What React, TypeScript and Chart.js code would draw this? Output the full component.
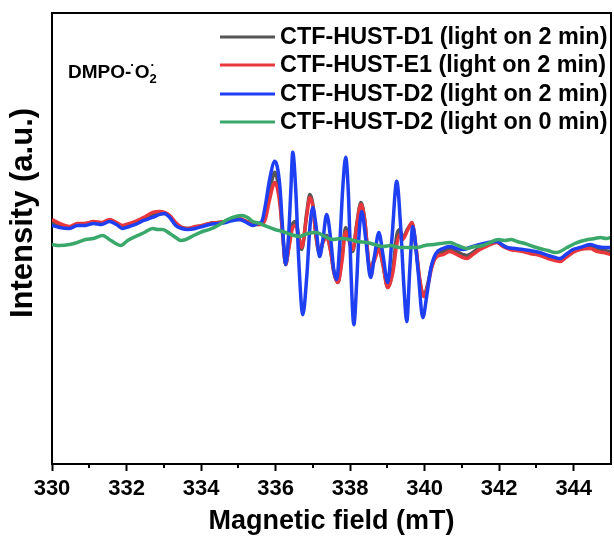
import React, { useEffect, useRef } from 'react';
import { Chart, registerables } from 'chart.js';

Chart.register(...registerables);

const FONT = "'Liberation Sans', Arial, Helvetica, sans-serif";

const seriesLabels = [
  'CTF-HUST-D1 (light on 2 min)',
  'CTF-HUST-E1 (light on 2 min)',
  'CTF-HUST-D2 (light on 2 min)',
  'CTF-HUST-D2 (light on 0 min)',
];
const seriesColors = ['#555555', '#e8383d', '#1f3ff2', '#3aa86a'];
const xTitle = 'Magnetic field (mT)';
const yTitle = 'Intensity (a.u.)';

const fieldMin = 330;
const fieldMax = 345;
const fieldStep = 2;
const intensityMin = -2.4;
const intensityMax = 2.1;

// Magnetic field (mT) grid shared by D1 and E1 traces
const d1e1Field = [
  330.00, 330.20, 330.47, 330.68, 330.90, 331.11, 331.33, 331.54, 331.73, 331.89,
  332.08, 332.24, 332.46, 332.70, 332.89, 333.02, 333.16, 333.32, 333.48, 333.64,
  333.85, 334.04, 334.23, 334.45, 334.66, 334.85, 335.04, 335.22, 335.39, 335.52,
  335.63, 335.73, 335.84, 335.98, 336.11, 336.19, 336.27, 336.35, 336.46, 336.54,
  336.62, 336.70, 336.84, 336.92, 337.00, 337.08, 337.18, 337.27, 337.37, 337.48,
  337.56, 337.67, 337.78, 337.88, 337.96, 338.07, 338.18, 338.29, 338.39, 338.53,
  338.64, 338.77, 338.88, 339.01, 339.15, 339.25, 339.33, 339.41, 339.55, 339.66,
  339.76, 339.87, 339.98, 340.09, 340.19, 340.30, 340.49, 340.68, 340.86, 341.03,
  341.13, 341.29, 341.48, 341.70, 341.94, 342.10, 342.29, 342.48, 342.64, 342.83,
  343.09, 343.31, 343.50, 343.63, 343.79, 343.98, 344.17, 344.44, 344.63, 344.80,
  345.00,
];

const d1Intensity = [
  0.01, -0.02, -0.04, -0.01, 0, 0.01, 0, 0.03, 0, -0.03,
  -0.01, 0.01, 0.04, 0.08, 0.10, 0.10, 0.07, 0, -0.04, -0.05,
  -0.04, -0.02, 0, 0.01, 0.02, 0.04, 0.04, 0.02, -0.01, -0.01,
  0, 0.10, 0.32, 0.51, 0.26, -0.11, -0.41, -0.24, 0, 0.02,
  -0.12, -0.26, 0.12, 0.29, 0.19, -0.12, -0.30, -0.18, -0.12, -0.28,
  -0.48, -0.59, -0.34, -0.04, -0.14, -0.28, 0, 0.21, 0.04, -0.46,
  -0.36, -0.24, -0.41, -0.64, -0.44, -0.12, -0.06, -0.14, -0.05, 0,
  -0.23, -0.58, -0.72, -0.59, -0.42, -0.33, -0.28, -0.26, -0.28, -0.31,
  -0.32, -0.29, -0.24, -0.21, -0.18, -0.22, -0.25, -0.26, -0.27, -0.29,
  -0.31, -0.34, -0.36, -0.37, -0.33, -0.28, -0.25, -0.23, -0.26, -0.27,
  -0.28,
];

const e1Intensity = [
  0.04, 0, -0.03, 0, 0, 0.02, 0.01, 0.04, 0.01, -0.02,
  0, 0.02, 0.06, 0.11, 0.12, 0.11, 0.08, 0.01, -0.04, -0.05,
  -0.03, -0.02, 0, 0.01, 0.02, 0.04, 0.05, 0.02, 0, -0.01,
  -0.01, 0.05, 0.24, 0.41, 0.21, -0.11, -0.41, -0.26, -0.04, -0.02,
  -0.14, -0.24, 0.09, 0.26, 0.17, -0.11, -0.28, -0.19, -0.14, -0.28,
  -0.48, -0.59, -0.38, -0.08, -0.16, -0.26, -0.01, 0.19, 0.04, -0.44,
  -0.38, -0.26, -0.41, -0.64, -0.48, -0.21, -0.11, -0.16, -0.06, 0.01,
  -0.21, -0.56, -0.73, -0.61, -0.44, -0.34, -0.31, -0.28, -0.31, -0.34,
  -0.35, -0.31, -0.26, -0.22, -0.19, -0.23, -0.26, -0.27, -0.28, -0.30,
  -0.32, -0.35, -0.37, -0.38, -0.34, -0.29, -0.26, -0.25, -0.28, -0.29,
  -0.31,
];

const d2Field = [
  330.00, 330.20, 330.47, 330.68, 330.90, 331.11, 331.33, 331.54, 331.73, 331.89,
  332.08, 332.24, 332.46, 332.70, 332.89, 333.02, 333.16, 333.32, 333.48, 333.64,
  333.85, 334.04, 334.23, 334.45, 334.66, 334.85, 335.04, 335.22, 335.39, 335.52,
  335.63, 335.73, 335.84, 335.98, 336.11, 336.19, 336.27, 336.35, 336.41, 336.46,
  336.54, 336.62, 336.73, 336.84, 336.92, 337.00, 337.08, 337.18, 337.27, 337.37,
  337.48, 337.56, 337.64, 337.72, 337.80, 337.88, 337.96, 338.02, 338.10, 338.18,
  338.23, 338.31, 338.42, 338.55, 338.66, 338.77, 338.88, 339.01, 339.12, 339.25,
  339.36, 339.44, 339.52, 339.60, 339.68, 339.82, 339.95, 340.06, 340.17, 340.30,
  340.49, 340.68, 340.86, 341.03, 341.21, 341.48, 341.70, 341.94, 342.07, 342.21,
  342.42, 342.64, 342.83, 343.09, 343.31, 343.50, 343.63, 343.79, 343.98, 344.17,
  344.44, 344.63, 344.80, 345.00,
];

const d2Intensity = [
  -0.02, -0.04, -0.05, -0.02, -0.02, 0, -0.01, 0.02, -0.01, -0.05,
  -0.03, -0.01, 0.03, 0.06, 0.09, 0.10, 0.06, -0.02, -0.05, -0.06,
  -0.05, -0.03, -0.01, 0, 0.01, 0.03, 0.04, 0.01, -0.02, 0,
  0.02, 0.19, 0.44, 0.62, 0.39, -0.06, -0.41, -0.11, 0.34, 0.71,
  0.34, -0.36, -0.91, -0.51, -0.04, 0.16, -0.01, -0.33, -0.16, 0.09,
  -0.16, -0.46, -0.56, -0.21, 0.34, 0.66, 0.24, -0.46, -1.01, -0.56,
  -0.16, 0.12, -0.16, -0.54, -0.31, -0.09, -0.31, -0.59, -0.16, 0.42,
  -0.06, -0.61, -0.98, -0.46, -0.03, -0.46, -0.94, -0.71, -0.44, -0.30,
  -0.25, -0.23, -0.25, -0.26, -0.24, -0.21, -0.19, -0.18, -0.21, -0.24,
  -0.25, -0.26, -0.27, -0.29, -0.32, -0.34, -0.35, -0.31, -0.26, -0.24,
  -0.21, -0.23, -0.24, -0.24,
];

const darkField = [
  330.00, 330.20, 330.47, 330.68, 330.90, 331.11, 331.36, 331.54, 331.71, 331.84,
  332.03, 332.24, 332.48, 332.70, 332.84, 332.97, 333.16, 333.32, 333.45, 333.59,
  333.80, 334.04, 334.23, 334.50, 334.71, 334.93, 335.09, 335.25, 335.39, 335.57,
  335.76, 335.98, 336.19, 336.41, 336.65, 336.86, 337.10, 337.32, 337.53, 337.75,
  337.99, 338.20, 338.45, 338.66, 338.88, 339.09, 339.33, 339.55, 339.79, 340.01,
  340.22, 340.43, 340.68, 340.89, 341.13, 341.35, 341.56, 341.75, 341.97, 342.15,
  342.32, 342.48, 342.69, 342.91, 343.09, 343.31, 343.50, 343.63, 343.82, 344.03,
  344.17, 344.38, 344.57, 344.71, 344.87, 345.00,
];

const darkIntensity = [
  -0.21, -0.22, -0.21, -0.19, -0.16, -0.15, -0.12, -0.16, -0.20, -0.22,
  -0.17, -0.13, -0.09, -0.05, -0.06, -0.06, -0.10, -0.14, -0.17, -0.16,
  -0.12, -0.08, -0.06, -0.01, 0.04, 0.07, 0.08, 0.06, 0.02, 0,
  -0.03, -0.06, -0.08, -0.11, -0.13, -0.10, -0.09, -0.13, -0.16, -0.15,
  -0.16, -0.18, -0.19, -0.21, -0.23, -0.22, -0.24, -0.24, -0.24, -0.22,
  -0.21, -0.20, -0.19, -0.22, -0.25, -0.23, -0.22, -0.19, -0.16, -0.17,
  -0.16, -0.18, -0.20, -0.23, -0.25, -0.27, -0.29, -0.28, -0.24, -0.20,
  -0.18, -0.16, -0.15, -0.14, -0.15, -0.14,
];

const toPoints = (xs: number[], ys: number[]) => xs.map((x, i) => ({ x, y: ys[i] }));

const framePlugin = {
  id: 'frameAndMinor',
  afterDraw(chart: any) {
    const { ctx, chartArea } = chart;
    const { left, right, top, bottom } = chartArea;
    const xs = chart.scales.x;
    ctx.save();
    ctx.strokeStyle = '#000';
    ctx.lineWidth = 2;
    ctx.beginPath();
    ctx.moveTo(left - 1, top);
    ctx.lineTo(right, top);
    ctx.lineTo(right, bottom + 1);
    ctx.stroke();
    ctx.beginPath();
    for (let v = fieldMin + 1; v < fieldMax; v += fieldStep) {
      const px = Math.round(xs.getPixelForValue(v));
      ctx.moveTo(px, bottom);
      ctx.lineTo(px, bottom + 4);
    }
    ctx.stroke();
    // y-axis title
    ctx.translate(23, 213);
    ctx.rotate(-Math.PI / 2);
    ctx.fillStyle = '#000';
    ctx.font = `bold 31px ${FONT}`;
    ctx.textAlign = 'center';
    ctx.textBaseline = 'middle';
    ctx.fillText(yTitle, 0, 0);
    ctx.restore();
  },
};

const legendPlugin = {
  id: 'customLegend',
  afterDraw(chart: any) {
    const { ctx } = chart;
    ctx.save();
    const rowY = [37, 65, 94, 122];
    chart.data.datasets.forEach((ds: any, i: number) => {
      const y = rowY[i];
      ctx.strokeStyle = ds.borderColor;
      ctx.lineWidth = 3;
      ctx.beginPath();
      ctx.moveTo(220, y);
      ctx.lineTo(275, y);
      ctx.stroke();
      ctx.fillStyle = '#000';
      ctx.font = `bold 23.4px ${FONT}`;
      ctx.textBaseline = 'middle';
      ctx.textAlign = 'left';
      ctx.fillText(ds.label, 280, y + 1);
    });
    // DMPO-·O2· label
    let x = 68;
    const base = 78;
    ctx.textBaseline = 'alphabetic';
    ctx.font = `bold 19px ${FONT}`;
    ctx.fillText('DMPO-', x, base);
    x += ctx.measureText('DMPO-').width;
    ctx.font = `bold 13px ${FONT}`;
    ctx.fillText('\u00B7', x - 1, base - 9);
    x += ctx.measureText('\u00B7').width - 1;
    ctx.font = `bold 19px ${FONT}`;
    ctx.fillText('O', x, base);
    x += ctx.measureText('O').width;
    ctx.font = `bold 13px ${FONT}`;
    ctx.fillText('2', x, base + 5);
    ctx.fillText('\u00B7', x + 1, base - 9);
    ctx.restore();
  },
};

export default function App() {
  const ref = useRef<HTMLCanvasElement | null>(null);
  useEffect(() => {
    if (!ref.current) return;
    const chart = new Chart(ref.current, {
      type: 'line',
      data: {
        datasets: [
          { label: seriesLabels[0], data: toPoints(d1e1Field, d1Intensity), borderColor: seriesColors[0], order: 3 },
          { label: seriesLabels[1], data: toPoints(d1e1Field, e1Intensity), borderColor: seriesColors[1], order: 2 },
          { label: seriesLabels[2], data: toPoints(d2Field, d2Intensity), borderColor: seriesColors[2], order: 1 },
          { label: seriesLabels[3], data: toPoints(darkField, darkIntensity), borderColor: seriesColors[3], order: 0 },
        ].map((d) => ({
          ...d,
          borderWidth: 3.5,
          pointRadius: 0,
          fill: false,
          cubicInterpolationMode: 'monotone' as const,
        })),
      },
      options: {
        animation: false,
        responsive: false,
        devicePixelRatio: 1,
        layout: { padding: { top: 13, right: 3, left: 0, bottom: 0 } },
        plugins: { legend: { display: false }, tooltip: { enabled: false } },
        scales: {
          x: {
            type: 'linear',
            min: fieldMin,
            max: fieldMax,
            afterFit: (s: any) => { s.height = 74; },
            ticks: {
              stepSize: fieldStep,
              includeBounds: false,
              autoSkip: false,
              maxRotation: 0,
              padding: 5,
              color: '#000',
              font: { family: FONT, size: 22, weight: 'bold' },
              callback: (v: any) => String(v),
            },
            grid: {
              display: true,
              drawOnChartArea: false,
              drawTicks: true,
              tickLength: 7,
              tickWidth: 2,
              tickColor: '#000',
            },
            border: { display: true, width: 2, color: '#000' },
            title: {
              display: true,
              text: xTitle,
              color: '#000',
              font: { family: FONT, size: 27, weight: 'bold' },
              padding: { top: 0, bottom: 0 },
            },
          },
          y: {
            type: 'linear',
            min: intensityMin,
            max: intensityMax,
            afterFit: (s: any) => { s.width = 52; },
            ticks: { display: false },
            grid: { display: false },
            border: { display: true, width: 2, color: '#000' },
            title: { display: false },
          },
        },
      },
      plugins: [framePlugin, legendPlugin],
    });
    return () => chart.destroy();
  }, []);
  return (
    <div style={{ position: 'fixed', left: 0, top: 0, width: 614, height: 538, background: '#fff' }}>
      <canvas ref={ref} width={614} height={538} style={{ width: 614, height: 538 }} />
    </div>
  );
}
